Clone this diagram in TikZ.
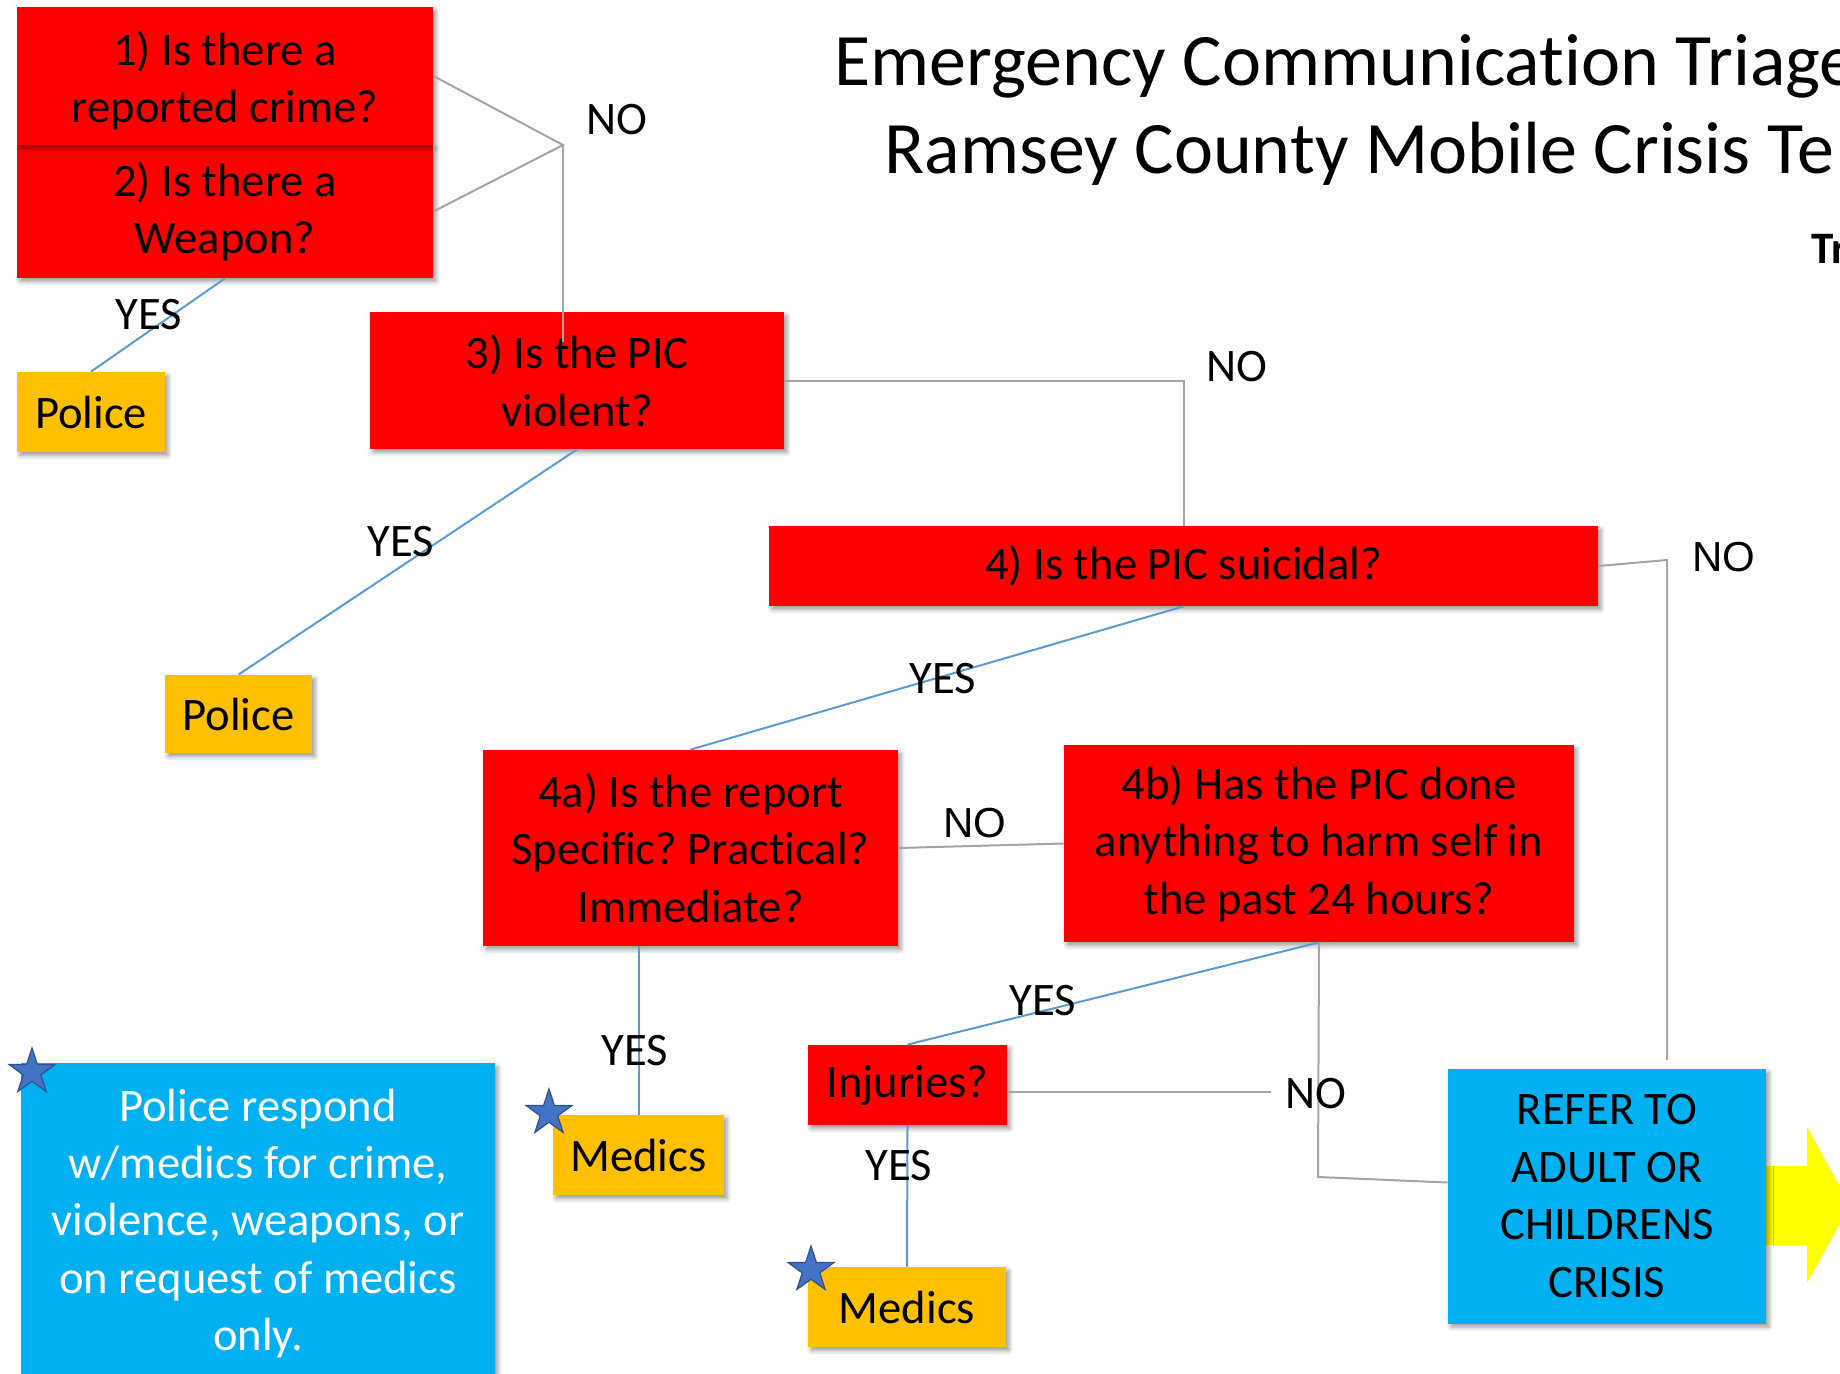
\documentclass[tikz,border=0pt]{standalone}
\usepackage{fontspec}
\setmainfont{Carlito}[Ligatures=NoCommon]
\newfontfamily\labelsans{Liberation Sans}
\usetikzlibrary{shapes.geometric,shadows.blur,calc}
\definecolor{figRed}{RGB}{255,0,0}
\definecolor{figAmber}{RGB}{255,192,0}
\definecolor{figCyan}{RGB}{0,176,240}
\definecolor{figYellow}{RGB}{255,255,0}
\definecolor{figGray}{RGB}{165,165,165}
\definecolor{figBlue}{RGB}{91,155,213}
\definecolor{figStar}{RGB}{68,114,196}
\definecolor{figStarEdge}{RGB}{47,82,143}
\newcommand\boxfont{\fontsize{23.3}{28.7}\selectfont}
\frenchspacing

\begin{document}
\begin{tikzpicture}[x=0.5pt,y=-0.5pt,
  boxshadow/.style={blur shadow={shadow xshift=1.5pt,shadow yshift=-1.8pt,shadow blur radius=2.2pt,shadow opacity=40}},
  askbox/.style={fill=figRed,boxshadow,font=\boxfont,align=center,inner sep=0pt},
  gobox/.style={fill=figAmber,boxshadow,font=\boxfont,align=center,inner sep=0pt},
  infobox/.style={fill=figCyan,boxshadow,font=\boxfont,align=center,inner sep=0pt},
  nolink/.style={figGray,line width=1pt},
  yeslink/.style={figBlue,line width=1pt},
  lbl/.style={font=\boxfont,anchor=base west,inner sep=0pt},
  starmark/.style={star,star points=5,star point ratio=2.6,minimum size=24pt,inner sep=0pt,fill=figStar,draw=figStarEdge,line width=0.6pt}]
\useasboundingbox (0,0) rectangle (1840,1374);
% heading, runs off the right edge
\node[font=\fontsize{37}{44}\selectfont,anchor=base west,inner sep=0pt] (title1) at (834,86) {Emergency Communication Triage};
\node[font=\fontsize{37}{44}\selectfont,anchor=base west,inner sep=0pt] (title2) at (884,174) {Ramsey County Mobile Crisis Te};
\node[font=\fontsize{22.5}{27}\selectfont\bfseries,anchor=base west,inner sep=0pt] (tag) at (1811,264) {Tr};
\fill[figYellow] (1766,1166) -- (1807,1166) -- (1807,1127) -- (1850,1205) -- (1807,1283) -- (1807,1245) -- (1766,1245) -- cycle;
% question boxes and outcomes
\node[askbox,minimum width=208pt,minimum height=66.5pt] (q2) at (225,211.5) {2) Is there a\\Weapon?};
\node[askbox,minimum width=208pt,minimum height=69pt] (q1) at (225,76) {\rule{0pt}{22pt}1) Is there a\\reported crime?};
\node[gobox,minimum width=74pt,minimum height=40pt] (pol1) at (91,412) {Police};
\node[askbox,minimum width=207pt,minimum height=68.5pt] (q3) at (577,380.5) {3) Is the PIC\\violent?};
\node[gobox,minimum width=73.5pt,minimum height=39pt] (pol2) at (238.5,714) {Police};
\node[askbox,minimum width=414.5pt,minimum height=40pt] (q4) at (1183.5,566) {4) Is the PIC suicidal?};
\node[askbox,minimum width=207.5pt,minimum height=98pt] (q4a) at (690.5,848) {4a) Is the report\\Specific? Practical?\\Immediate?};
\node[askbox,minimum width=255pt,minimum height=98.5pt] (q4b) at (1319,843.5) {4b) Has the PIC done\\anything to harm self in\\the past 24 hours?};
\node[askbox,minimum width=99.5pt,minimum height=40pt] (inj) at (907.5,1085) {Injuries?};
\node[gobox,minimum width=85.5pt,minimum height=40pt] (med1) at (638.5,1155) {Medics};
\node[gobox,minimum width=99pt,minimum height=40pt] (med2) at (907,1307) {Medics};
\node[infobox,text=black,minimum width=159pt,minimum height=127.5pt] (refer) at (1607,1196) {REFER TO\\ADULT OR\\CHILDRENS\\CRISIS};
\node[infobox,text=white,minimum width=237pt,minimum height=160.5pt] (note) at (258,1223.5) {Police respond\\w/medics for crime,\\violence, weapons, or\\on request of medics\\only.};
% NO branches
\coordinate (j12) at (563,145);
\coordinate (q3in) at (563,342);
\draw[nolink] (q1.east) -- (j12) -- (q2.east);
\draw[nolink] (j12) -- (q3in);
\draw[nolink] (q3.east) -| (q4.north);
\coordinate (k4) at (1667,560);
\coordinate (k4end) at (1667,1060);
\draw[nolink] (q4.east) -- (k4) -- (k4end);
\draw[nolink] (q4a.east) -- (q4b.west);
\coordinate (k4b) at (1318,1177);
\draw[nolink] (q4b.south) -- (k4b) -- ($(refer.west)+(0,-13.5)$);
\coordinate (injno) at (1271,1092);
\draw[nolink] (injno -| inj.east) -- (injno);
% YES branches
\draw[yeslink] (q2.south) -- (pol1.north);
\draw[yeslink] (q3.south) -- (pol2.north);
\draw[yeslink] (q4.south) -- (q4a.north);
\draw[yeslink] (q4a.south -| med1.north) -- (med1.north);
\draw[yeslink] (q4b.south) -- (inj.north);
\draw[yeslink] (inj.south) -- (med2.north);
\node[lbl] (no1) at (586,135) {NO};
\node[lbl] (yes1) at (115,330) {YES};
\node[lbl] (no2) at (1206,381) {NO};
\node[lbl] (yes2) at (367,556) {YES};
\node[lbl,font=\labelsans\fontsize{21}{25}\selectfont] (no3) at (1692,571) {NO};
\node[lbl] (yes3) at (909,693) {YES};
\node[lbl,font=\labelsans\fontsize{21}{25}\selectfont] (no4) at (943,837) {NO};
\node[lbl] (yes4) at (601,1065) {YES};
\node[lbl] (yes5) at (1009,1015) {YES};
\node[lbl] (no5) at (1285,1108) {NO};
\node[lbl] (yes6) at (865,1180) {YES};
\node[starmark] (star1) at (32,1072) {};
\node[starmark] (star2) at (549,1113) {};
\node[starmark] (star3) at (811,1270) {};
\end{tikzpicture}
\end{document}
